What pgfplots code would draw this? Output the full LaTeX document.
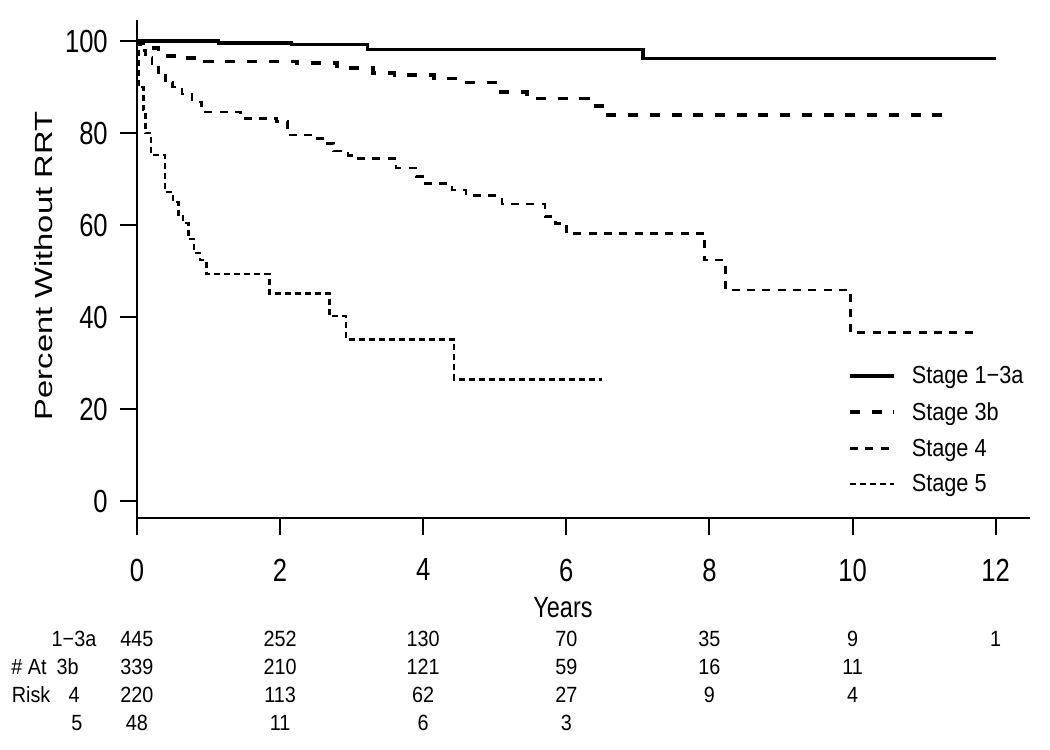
\documentclass[border=0pt]{standalone}
\usepackage{pgfplots}
\pgfplotsset{compat=1.18}
\usepackage{fontspec}
\setmainfont{Liberation Sans}
\newfontfamily\tickfont{Liberation Sans}[FakeStretch=0.8]
\newfontfamily\riskfont{Liberation Sans}[FakeStretch=0.9]
\newfontfamily\legfont{Liberation Sans}[FakeStretch=0.88]

\pgfplotstableread{
x y
0 100
1.14 99.6
2.16 99.3
3.22 98.2
7.07 96.2
12.0 96.2
}\stageA
\pgfplotstableread{
x y
0 100
0.08 98.5
0.3 96.8
0.65 96.4
0.95 95.6
2.24 95.3
2.8 94.1
3.3 93.1
3.6 92.6
4.15 91.9
4.45 91.0
5.03 89.0
5.45 87.5
6.3 85.9
6.5 83.9
11.3 83.9
}\stageB
\pgfplotstableread{
x y
0 100
0.05 98
0.12 96.5
0.21 95
0.3 92.5
0.4 91
0.5 90
0.63 88.5
0.77 86.8
0.9 84.6
1.45 83.2
1.95 82.5
2.1 79.6
2.45 78.8
2.6 77.7
2.75 76.1
2.95 75.2
3.05 74.5
3.62 72.4
3.9 70.5
3.99 69.0
4.4 67.6
4.6 66.4
5.1 64.6
5.7 61.8
5.85 60.4
6.0 58.2
7.93 52.4
8.22 45.9
9.97 36.6
11.78 36.6
}\stageC
\pgfplotstableread{
x y
0 100
0.02 90
0.09 85
0.12 80
0.2 75.2
0.39 67.2
0.5 65
0.58 62
0.64 60.4
0.72 57
0.8 54
0.88 52.4
0.97 49.3
1.85 45.1
2.69 40.3
2.92 35.1
4.43 26.4
6.5 26.4
}\stageD
\pgfplotstableread{
x y n
0 -30.0 445
2 -30.0 252
4 -30.0 130
6 -30.0 70
8 -30.0 35
10 -30.0 9
12 -30.0 1
0 -36.1 339
2 -36.1 210
4 -36.1 121
6 -36.1 59
8 -36.1 16
10 -36.1 11
0 -42.2 220
2 -42.2 113
4 -42.2 62
6 -42.2 27
8 -42.2 9
10 -42.2 4
0 -48.3 48
2 -48.3 11
4 -48.3 6
6 -48.3 3
}\risk

\begin{document}
\begin{tikzpicture}
\path[use as bounding box] (-102.75pt,-174pt) rectangle (684.75pt,388.5pt);
\begin{axis}[
  scale only axis, width=669.75pt, height=373.5pt,
  xmin=0, xmax=12.48, ymin=-3.7, ymax=104.6,
  axis x line=bottom, axis y line=left,
  axis line style={-, line width=2pt},
  xtick={0,2,...,12}, ytick={0,20,...,100},
  tick align=outside, major tick length=13pt,
  tick style={line width=1.5pt, black},
  clip=false,
  /pgf/number format/assume math mode=true,
  tick label style={font=\tickfont\fontsize{24}{28}\selectfont, inner sep=0pt},
  xticklabel style={anchor=north, yshift=-17.5pt},
  yticklabel style={anchor=east, xshift=-8.75pt},
  xlabel={Years},
  xlabel style={font=\tickfont\fontsize{22}{26}\selectfont, inner sep=0pt, anchor=base, at={(axis description cs:0.477,-0.199)}},
  ylabel={\scalebox{1}[0.76]{\fontsize{24.5}{29}\selectfont Percent Without RRT}},
  ylabel style={inner sep=0pt, anchor=center, at={(axis description cs:-0.105,0.506)}},
  legend cell align=left,
  legend image code/.code={\draw[#1] (0pt,0pt) -- (33pt,0pt);},
  legend style={draw=none, fill=none, inner sep=0pt, font=\legfont\fontsize{18.5}{21}\selectfont,
    at={(axis description cs:0.796,0.305)}, anchor=north west, row sep=12.5pt,
    nodes={inner sep=0pt},
    /tikz/every odd column/.append style={column sep=12pt}},
]
\addplot[const plot, black, line width=2.6pt] table {\stageA};
\addlegendentry{Stage 1\char"2212 3a}
\addplot[const plot, black, line width=2.8pt, dash pattern=on 7.5pt off 8.8pt] table {\stageB};
\addlegendentry{Stage 3b}
\addplot[const plot, black, line width=2pt, dash pattern=on 6pt off 5.5pt] table {\stageC};
\addlegendentry{Stage 4}
\addplot[const plot, black, line width=1.7pt, dash pattern=on 4.5pt off 3pt] table {\stageD};
\addlegendentry{Stage 5}
\addplot[draw=none, forget plot, nodes near coords, point meta=explicit symbolic,
  every node near coord/.style={anchor=center, inner sep=0pt, font=\riskfont\fontsize{16.5}{19}\selectfont}]
  table[meta=n] {\risk};
\node[font=\riskfont\fontsize{16.5}{19}\selectfont, inner sep=0pt, anchor=center] at (axis cs:-0.88,-30.0) {1\char"2212 3a};
\node[font=\riskfont\fontsize{16.5}{19}\selectfont, inner sep=0pt, anchor=center] at (axis cs:-0.97,-36.1) {3b};
\node[font=\riskfont\fontsize{16.5}{19}\selectfont, inner sep=0pt, anchor=center] at (axis cs:-0.88,-42.2) {4};
\node[font=\riskfont\fontsize{16.5}{19}\selectfont, inner sep=0pt, anchor=center] at (axis cs:-0.84,-48.3) {5};
\node[font=\riskfont\fontsize{16.5}{19}\selectfont, inner sep=0pt, anchor=center] at (axis cs:-1.51,-36.1) {\# At};
\node[font=\riskfont\fontsize{16.5}{19}\selectfont, inner sep=0pt, anchor=center] at (axis cs:-1.48,-42.2) {Risk};
\end{axis}
\end{tikzpicture}
\end{document}
